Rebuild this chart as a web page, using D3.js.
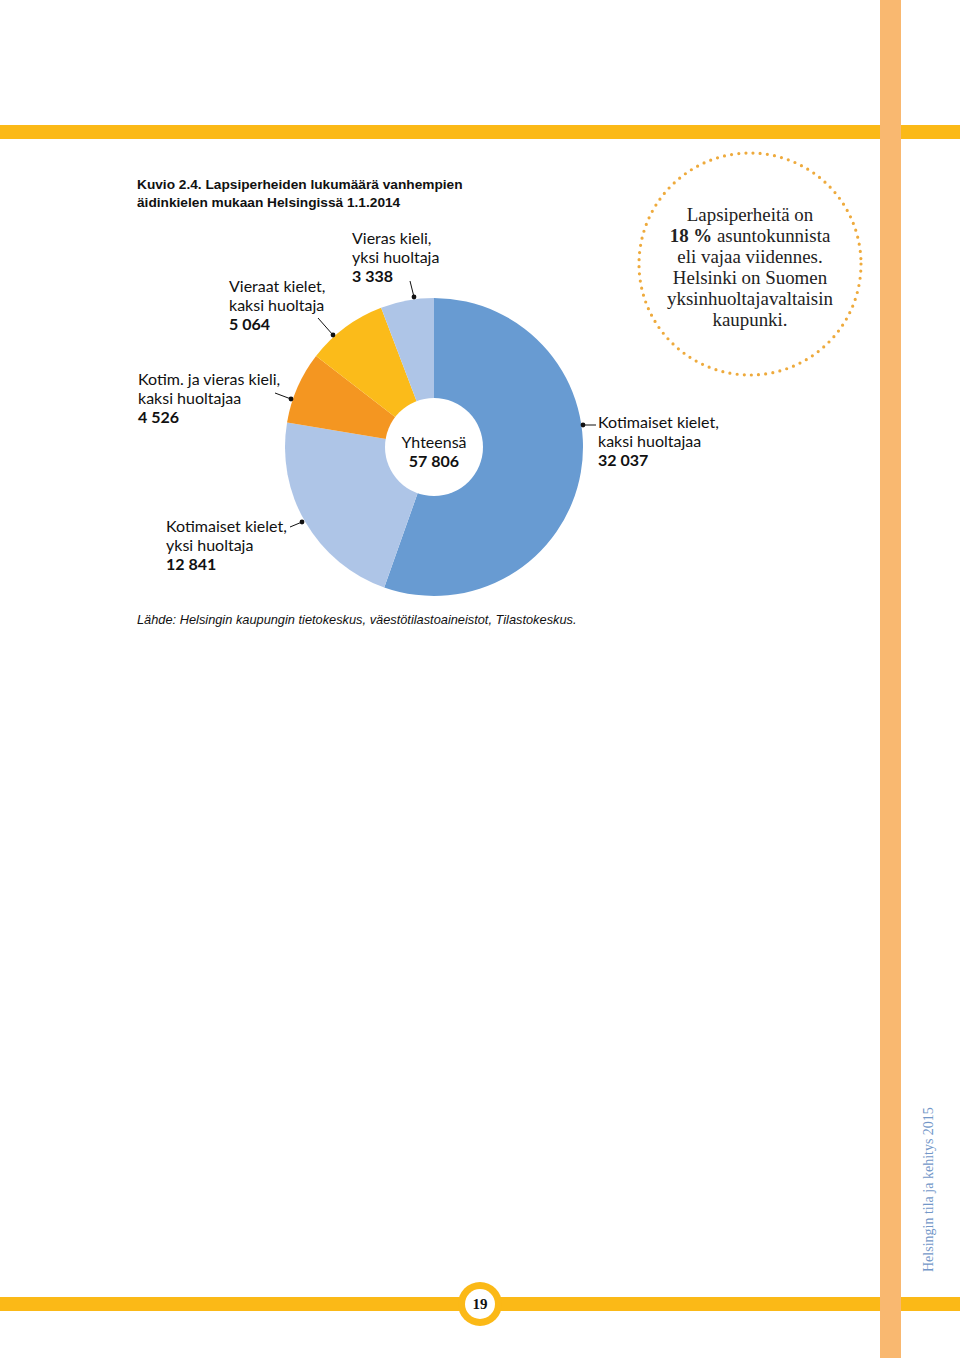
<!DOCTYPE html>
<html>
<head>
<meta charset="utf-8">
<script src="https://cdn.jsdelivr.net/npm/d3@7"></script>
<style>
  html, body { margin: 0; padding: 0; background: #fff; }
  svg { display: block; }
</style>
</head>
<body>
<svg id="chart" width="960" height="1358"></svg>
<script>
// ---- Data ----
const categories = [
  "Kotimaiset kielet, kaksi huoltajaa",
  "Kotimaiset kielet, yksi huoltaja",
  "Kotim. ja vieras kieli, kaksi huoltajaa",
  "Vieraat kielet, kaksi huoltaja",
  "Vieras kieli, yksi huoltaja"
];
const values = [32037, 12841, 4526, 5064, 3338];
const valueLabels = ["32 037", "12 841", "4 526", "5 064", "3 338"];
const labelLines = [
  ["Kotimaiset kielet,", "kaksi huoltajaa"],
  ["Kotimaiset kielet,", "yksi huoltaja"],
  ["Kotim. ja vieras kieli,", "kaksi huoltajaa"],
  ["Vieraat kielet,", "kaksi huoltaja"],
  ["Vieras kieli,", "yksi huoltaja"]
];
const sliceColors = ["#689bd2", "#aec5e7", "#f49621", "#fbbb1a", "#aec5e7"];
const totalLabel = "57 806";
const titleLines = ["Kuvio 2.4. Lapsiperheiden lukumäärä vanhempien", "äidinkielen mukaan Helsingissä 1.1.2014"];
const sourceText = "Lähde: Helsingin kaupungin tietokeskus, väestötilastoaineistot, Tilastokeskus.";
const calloutLines = ["Lapsiperheitä on", "asuntokunnista", "eli vajaa viidennes.", "Helsinki on Suomen", "yksinhuoltajavaltaisin", "kaupunki."];
const pageNumber = "19";
const sideText = "Helsingin tila ja kehitys 2015";

const svg = d3.select("#chart");
const W = 960, H = 1358;
const labelFont = "Lato, 'Open Sans', sans-serif";

// ---- Page decorations ----
svg.append("rect").attr("x", 0).attr("y", 125).attr("width", W).attr("height", 14).attr("fill", "#fbb917");
svg.append("rect").attr("x", 0).attr("y", 1297).attr("width", W).attr("height", 14).attr("fill", "#fbb917");
svg.append("rect").attr("x", 880).attr("y", 0).attr("width", 21).attr("height", H).attr("fill", "#f9b870");

// page number
svg.append("circle").attr("cx", 480).attr("cy", 1304).attr("r", 22).attr("fill", "#fbb917");
svg.append("circle").attr("cx", 480).attr("cy", 1304).attr("r", 15).attr("fill", "#fff");
svg.append("text").attr("x", 480).attr("y", 1309).attr("text-anchor", "middle")
  .attr("font-family", "'Liberation Serif', serif").attr("font-weight", "bold").attr("font-size", 15)
  .attr("fill", "#111").text(pageNumber);

// side text
svg.append("text").attr("transform", "translate(933,1272) rotate(-90)")
  .attr("font-family", "'Liberation Serif', serif").attr("font-size", 14)
  .attr("fill", "#7397c8").text(sideText);

// ---- Title ----
const title = svg.append("text").attr("font-family", "'Liberation Sans', Arial, sans-serif")
  .attr("font-weight", "bold").attr("font-size", 13.7).attr("fill", "#111");
titleLines.forEach((t, i) => title.append("tspan").attr("x", 137).attr("y", 189 + i * 18).text(t));

// ---- Callout circle ----
const cx0 = 750, cy0 = 264;
svg.append("circle").attr("cx", cx0).attr("cy", cy0).attr("r", 111)
  .attr("fill", "none").attr("stroke", "#eeaa3c").attr("stroke-width", 3.2)
  .attr("stroke-linecap", "round").attr("stroke-dasharray", "0 7.2");
const co = svg.append("text").attr("font-family", "'Liberation Serif', 'DejaVu Serif', serif")
  .attr("font-size", 18.9).attr("fill", "#222").attr("text-anchor", "middle");
calloutLines.forEach((t, i) => {
  const tsp = co.append("tspan").attr("x", cx0).attr("y", 221 + i * 21);
  if (i === 1) {
    tsp.append("tspan").attr("font-weight", "bold").text("18 %");
    tsp.append("tspan").text(" " + t);
  } else tsp.text(t);
});

// ---- Donut ----
const cx = 434, cy = 447, R = 149, r = 49;
const pie = d3.pie().sort(null).value(d => d).startAngle(0).endAngle(2 * Math.PI);
const arcs = pie(values);
const arc = d3.arc().innerRadius(0).outerRadius(R);
const g = svg.append("g").attr("transform", `translate(${cx},${cy})`);
g.selectAll("path").data(arcs).join("path")
  .attr("d", arc).attr("fill", (d, i) => sliceColors[i]);
g.append("circle").attr("r", r).attr("fill", "#fff");

const center = svg.append("text").attr("font-family", labelFont).attr("font-size", 16)
  .attr("fill", "#111").attr("text-anchor", "middle");
center.append("tspan").attr("x", cx).attr("y", 448).text("Yhteensä");
center.append("tspan").attr("x", cx).attr("y", 467).attr("font-weight", "bold").text(totalLabel);

// ---- Labels ----
const labelPos = [
  { x: 598, y: 428, line: [[596, 425], [583, 425]] },
  { x: 166, y: 532, line: [[290, 527], [302, 522]] },
  { x: 138, y: 385, line: [[275, 393], [291, 399]] },
  { x: 229, y: 292, line: [[318, 318], [333, 335]] },
  { x: 352, y: 244, line: [[410, 281], [414, 297]] }
];
labelPos.forEach((p, i) => {
  const t = svg.append("text").attr("font-family", labelFont).attr("font-size", 16).attr("fill", "#111");
  labelLines[i].forEach((l, j) => t.append("tspan").attr("x", p.x).attr("y", p.y + j * 19).text(l));
  t.append("tspan").attr("x", p.x).attr("y", p.y + 38).attr("font-weight", "bold").text(valueLabels[i]);
  svg.append("line").attr("x1", p.line[0][0]).attr("y1", p.line[0][1])
    .attr("x2", p.line[1][0]).attr("y2", p.line[1][1]).attr("stroke", "#111").attr("stroke-width", 1);
  svg.append("circle").attr("cx", p.line[1][0]).attr("cy", p.line[1][1]).attr("r", 2.4).attr("fill", "#111");
});

// ---- Source ----
svg.append("text").attr("x", 137).attr("y", 624)
  .attr("font-family", "'Liberation Sans', Arial, sans-serif").attr("font-style", "italic")
  .attr("font-size", 12.8).attr("fill", "#111").text(sourceText);
</script>
</body>
</html>
